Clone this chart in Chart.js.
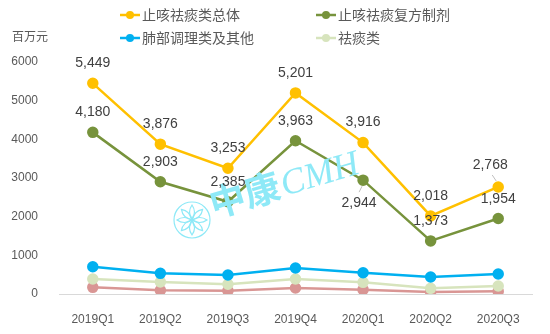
<!DOCTYPE html>
<html>
<head>
<meta charset="utf-8">
<script src="https://cdn.jsdelivr.net/npm/chart.js@4"></script>
<style>
  html, body { margin: 0; padding: 0; background: #fff; }
  #wrap { width: 550px; height: 334px; position: relative; }
</style>
</head>
<body>
<div id="wrap"><canvas id="myChart" width="550" height="334"></canvas></div>
<script>
const labels = ["2019Q1", "2019Q2", "2019Q3", "2019Q4", "2020Q1", "2020Q2", "2020Q3"];
const seriesNames = ["止咳祛痰类总体", "止咳祛痰复方制剂", "肺部调理类及其他", "祛痰类"];
const totalValues = [5449, 3876, 3253, 5201, 3916, 2018, 2768];
const compoundValues = [4180, 2903, 2385, 3963, 2944, 1373, 1954];
const lungValues = [706, 535, 491, 672, 551, 440, 517];
const expectorantValues = [388, 310, 251, 388, 302, 147, 207];
const otherValues = [173, 96, 85, 155, 112, 52, 69];
const yTicks = [0, 1000, 2000, 3000, 4000, 5000, 6000];

const FONT = "'Liberation Sans', 'Noto Sans CJK SC', sans-serif";
const CJK = "'Noto Sans CJK SC', sans-serif";

function line(label, data, color, showLabels) {
  return {
    label, data,
    borderColor: color, backgroundColor: color,
    pointBackgroundColor: color, pointBorderColor: color,
    borderWidth: 2.5, pointRadius: 4.5, pointHoverRadius: 4.5,
    tension: 0, showLabels
  };
}

// value labels: [dx, dy] from the point for the two big series
const labelShift = {
  0: { 6: [-8, -22] },
  1: { 4: [-4, 23], 6: [0, -19] }
};

const watermark = {
  id: "watermark",
  afterDatasetsDraw(chart) {
    const ctx = chart.ctx;
    ctx.save();
    ctx.strokeStyle = "#8ee9f7";
    ctx.lineWidth = 1.2;
    const cx = 192, cy = 220, r = 18;
    ctx.beginPath();
    ctx.arc(cx, cy, r, 0, Math.PI * 2);
    ctx.stroke();
    for (let i = 0; i < 8; i++) {
      const a = i * Math.PI / 4;
      ctx.save();
      ctx.translate(cx, cy);
      ctx.rotate(a);
      ctx.beginPath();
      ctx.moveTo(0, 0);
      ctx.quadraticCurveTo(5, -8, 0, -15);
      ctx.quadraticCurveTo(-5, -8, 0, 0);
      ctx.stroke();
      ctx.restore();
    }
    ctx.translate(214, 218);
    ctx.rotate(-0.29);
    ctx.fillStyle = "#8ee9f7";
    ctx.textBaseline = "alphabetic";
    ctx.font = "bold 36px " + CJK;
    ctx.fillText("中康", 0, 0);
    const w = ctx.measureText("中康").width;
    ctx.font = "italic 36px 'Liberation Serif', serif";
    ctx.fillText("CMH", w + 2, -1);
    ctx.restore();
  }
};

const valueLabels = {
  id: "valueLabels",
  afterDatasetsDraw(chart) {
    const ctx = chart.ctx;
    ctx.save();
    ctx.font = "14px " + FONT;
    ctx.fillStyle = "#404040";
    ctx.textAlign = "center";
    ctx.textBaseline = "middle";
    chart.data.datasets.forEach((ds, di) => {
      if (!ds.showLabels) return;
      chart.getDatasetMeta(di).data.forEach((pt, i) => {
        const s = (labelShift[di] && labelShift[di][i]) || [0, -20];
        ctx.fillText(ds.data[i].toLocaleString("en-US"), pt.x + s[0], pt.y + s[1]);
      });
    });
    // small leader ticks
    ctx.strokeStyle = "#bfbfbf";
    ctx.lineWidth = 1;
    const p1 = chart.getDatasetMeta(0).data[6];
    ctx.beginPath(); ctx.moveTo(p1.x - 6, p1.y - 12); ctx.lineTo(p1.x - 2, p1.y - 6); ctx.stroke();
    const p2 = chart.getDatasetMeta(1).data[4];
    ctx.beginPath(); ctx.moveTo(p2.x - 1, p2.y + 6); ctx.lineTo(p2.x - 4, p2.y + 12); ctx.stroke();
    ctx.restore();
  }
};

const legendAndTitle = {
  id: "legendAndTitle",
  afterDraw(chart) {
    const ctx = chart.ctx;
    ctx.save();
    ctx.font = "12px " + CJK;
    ctx.fillStyle = "#595959";
    ctx.textBaseline = "middle";
    ctx.fillText("百万元", 12, 36);
    ctx.font = "14px " + CJK;
    const spots = [[120, 15], [316, 15], [120, 38], [316, 38]];
    spots.forEach(([x, y], i) => {
      const c = chart.data.datasets[i].borderColor;
      ctx.strokeStyle = c;
      ctx.fillStyle = c;
      ctx.lineWidth = 2.5;
      ctx.beginPath(); ctx.moveTo(x, y); ctx.lineTo(x + 20, y); ctx.stroke();
      ctx.beginPath(); ctx.arc(x + 10, y, 4, 0, Math.PI * 2); ctx.fill();
      ctx.fillStyle = "#595959";
      ctx.fillText(seriesNames[i], x + 22, y);
    });
    ctx.restore();
  }
};

const config = {
  type: "line",
  data: {
    labels: labels,
    datasets: [
      line(seriesNames[0], totalValues, "#ffc000", true),
      line(seriesNames[1], compoundValues, "#77933c", true),
      line(seriesNames[2], lungValues, "#00b0f0", false),
      line(seriesNames[3], expectorantValues, "#d7e4bd", false),
      line("其他", otherValues, "#d99694", false)
    ]
  },
  options: {
    responsive: false,
    animation: false,
    layout: { padding: { top: 62, right: 18, left: 0, bottom: 0 } },
    plugins: {
      legend: { display: false },
      tooltip: { enabled: false },
      title: { display: false }
    },
    scales: {
      x: {
        offset: true,
        grid: { display: false },
        border: { color: "#d9d9d9", width: 1 },
        ticks: { color: "#595959", font: { size: 12, family: FONT }, padding: 10 },
        afterFit: s => { s.height = 40; }
      },
      y: {
        min: 0, max: 6000,
        afterBuildTicks: s => { s.ticks = yTicks.map(v => ({ value: v })); },
        grid: { display: false },
        border: { display: false },
        ticks: {
          color: "#595959", font: { size: 12, family: FONT }, padding: 13,
          callback: v => String(v)
        },
        afterFit: s => { s.width = 59; }
      }
    }
  },
  plugins: [watermark, valueLabels, legendAndTitle]
};

new Chart(document.getElementById("myChart").getContext("2d"), config);
</script>
</body>
</html>
